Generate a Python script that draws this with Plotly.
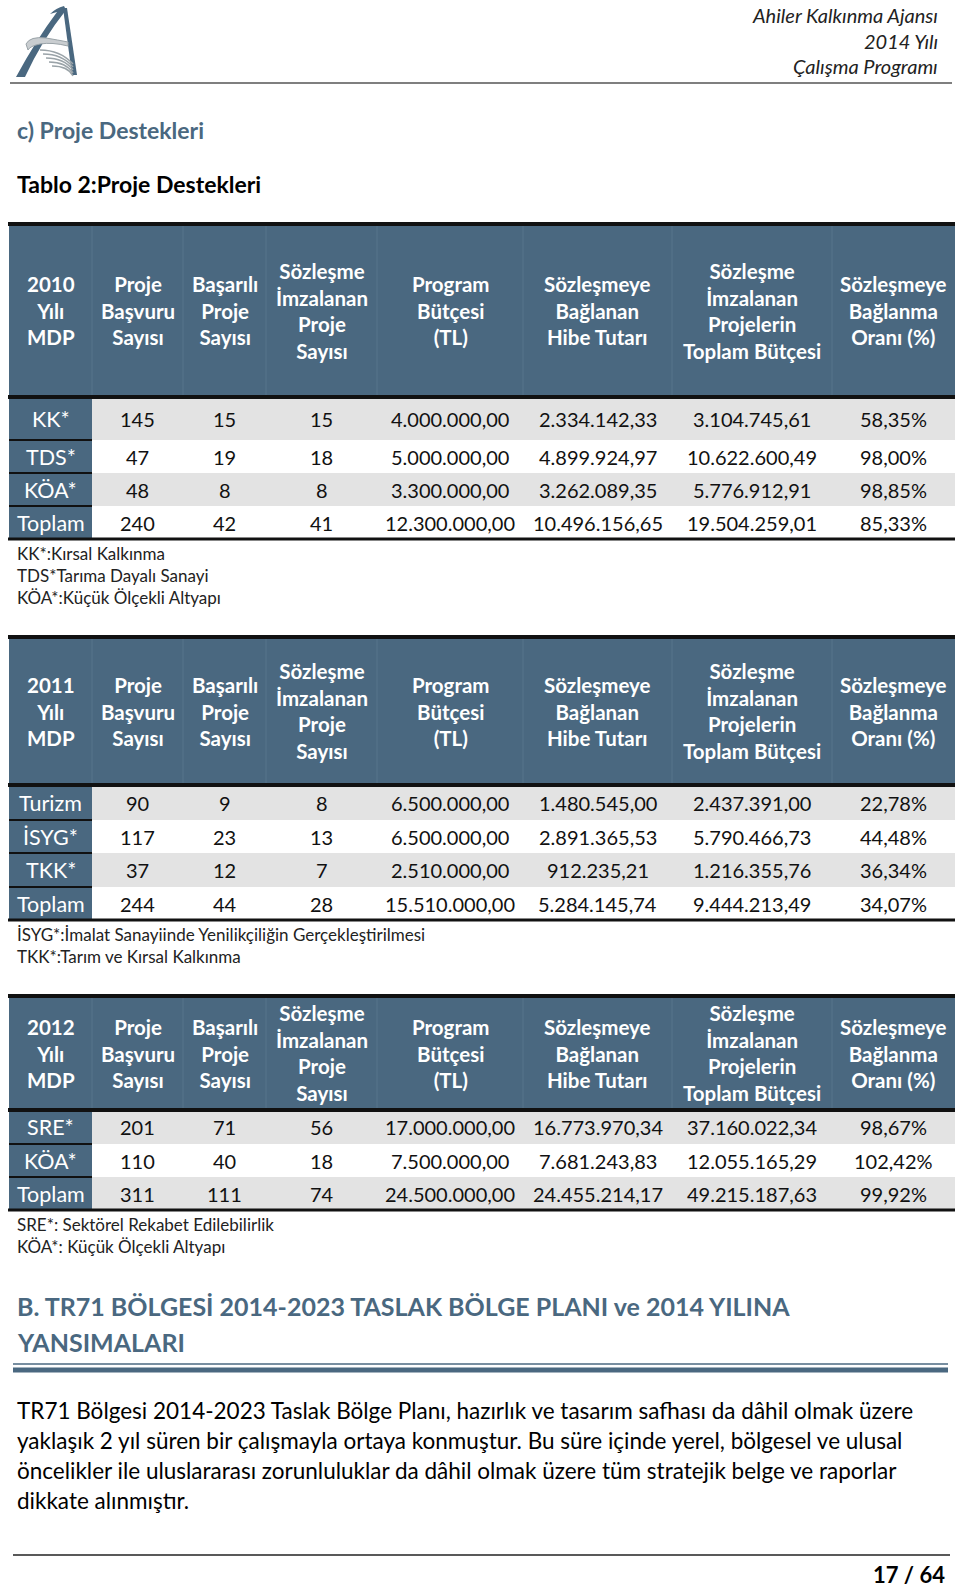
import plotly.graph_objects as go

W, H = 960, 1588
BLUE = "#4a6880"
GRAY = "#e3e3e3"
FONT = "Lato"

# column headers shared by the three tables
col_headers = [
    "Proje<br>Başvuru<br>Sayısı",
    "Başarılı<br>Proje<br>Sayısı",
    "Sözleşme<br>İmzalanan<br>Proje<br>Sayısı",
    "Program<br>Bütçesi<br>(TL)",
    "Sözleşmeye<br>Bağlanan<br>Hibe Tutarı",
    "Sözleşme<br>İmzalanan<br>Projelerin<br>Toplam Bütçesi",
    "Sözleşmeye<br>Bağlanma<br>Oranı (%)",
]

# 2010
programs_2010 = ["KK*", "TDS*", "KÖA*", "Toplam"]
basvuru_2010 = [145, 47, 48, 240]
basarili_2010 = [15, 19, 8, 42]
imzalanan_2010 = [15, 18, 8, 41]
butce_2010 = [4000000.00, 5000000.00, 3300000.00, 12300000.00]
hibe_2010 = [2334142.33, 4899924.97, 3262089.35, 10496156.65]
toplam_butce_2010 = [3104745.61, 10622600.49, 5776912.91, 19504259.01]
oran_2010 = [58.35, 98.00, 98.85, 85.33]
notes_2010 = ["KK*:Kırsal Kalkınma", "TDS*Tarıma Dayalı Sanayi", "KÖA*:Küçük Ölçekli Altyapı"]

# 2011
programs_2011 = ["Turizm", "İSYG*", "TKK*", "Toplam"]
basvuru_2011 = [90, 117, 37, 244]
basarili_2011 = [9, 23, 12, 44]
imzalanan_2011 = [8, 13, 7, 28]
butce_2011 = [6500000.00, 6500000.00, 2510000.00, 15510000.00]
hibe_2011 = [1480545.00, 2891365.53, 912235.21, 5284145.74]
toplam_butce_2011 = [2437391.00, 5790466.73, 1216355.76, 9444213.49]
oran_2011 = [22.78, 44.48, 36.34, 34.07]
notes_2011 = ["İSYG*:İmalat Sanayiinde Yenilikçiliğin Gerçekleştirilmesi", "TKK*:Tarım ve Kırsal Kalkınma"]

# 2012
programs_2012 = ["SRE*", "KÖA*", "Toplam"]
basvuru_2012 = [201, 110, 311]
basarili_2012 = [71, 40, 111]
imzalanan_2012 = [56, 18, 74]
butce_2012 = [17000000.00, 7500000.00, 24500000.00]
hibe_2012 = [16773970.34, 7681243.83, 24455214.17]
toplam_butce_2012 = [37160022.34, 12055165.29, 49215187.63]
oran_2012 = [98.67, 102.42, 99.92]
notes_2012 = ["SRE*: Sektörel Rekabet Edilebilirlik", "KÖA*: Küçük Ölçekli Altyapı"]

paragraph = [
    "TR71 Bölgesi 2014-2023 Taslak Bölge Planı, hazırlık ve tasarım safhası da dâhil olmak üzere",
    "yaklaşık 2 yıl süren bir çalışmayla ortaya konmuştur. Bu süre içinde yerel, bölgesel ve ulusal",
    "öncelikler ile uluslararası zorunluluklar da dâhil olmak üzere tüm stratejik belge ve raporlar",
    "dikkate alınmıştır.",
]


def tl(v):
    s = f"{v:,.2f}"
    return s.replace(",", "#").replace(".", ",").replace("#", ".")


def pct(v):
    return f"{v:.2f}".replace(".", ",") + "%"


# page layout (pixels)
COL_X = [9, 92, 183, 266, 377, 523, 672, 832, 955]

fig = go.Figure()
shapes = []
annots = []


def text(x, y, s, size, color="black", bold=False, italic=False, anchor="left"):
    if bold:
        s = f"<b>{s}</b>"
    if italic:
        s = f"<i>{s}</i>"
    annots.append(dict(x=x, y=y, xref="x", yref="y", text=s, showarrow=False,
                       xanchor=anchor, yanchor="middle",
                       font=dict(family=FONT, size=size, color=color)))


def hline(x0, x1, y, w, color="black"):
    shapes.append(dict(type="line", xref="x", yref="y", x0=x0, x1=x1, y0=y, y1=y,
                       line=dict(color=color, width=w)))


def rect(x0, x1, y0, y1, color):
    shapes.append(dict(type="rect", xref="x", yref="y", x0=x0, x1=x1, y0=y0, y1=y1,
                       fillcolor=color, line=dict(width=0), layer="below"))


def draw_table(year, top, head_bot, row_edges, programs, cols, notes, note_y):
    rect(COL_X[0], COL_X[-1], top, head_bot, BLUE)
    for xe in COL_X[1:-1]:
        shapes.append(dict(type="line", xref="x", yref="y", x0=xe, x1=xe, y0=top, y1=head_bot,
                           line=dict(color="#57758b", width=1), layer="below"))
    heads = [f"{year}<br>Yılı<br>MDP"] + col_headers
    ymid = (top + head_bot) / 2
    for i, h in enumerate(heads):
        text((COL_X[i] + COL_X[i + 1]) / 2, ymid, h, 20.5, "white", bold=True, anchor="center")
    for r, prog in enumerate(programs):
        y0, y1 = row_edges[r], row_edges[r + 1]
        rect(COL_X[1], COL_X[-1], y0, y1, GRAY if r % 2 == 0 else "white")
        rect(COL_X[0], COL_X[1], y0, y1, BLUE)
        yc = (y0 + y1) / 2
        text((COL_X[0] + COL_X[1]) / 2, yc, prog, 21.5, "white", anchor="center")
        vals = [str(cols[0][r]), str(cols[1][r]), str(cols[2][r]), tl(cols[3][r]),
                tl(cols[4][r]), tl(cols[5][r]), pct(cols[6][r])]
        for c, v in enumerate(vals):
            text((COL_X[c + 1] + COL_X[c + 2]) / 2, yc, v, 20, "#111111", anchor="center")
        if 0 < r:
            hline(COL_X[0], COL_X[1], y0, 2, "#111111")
    hline(COL_X[0] - 1, COL_X[-1], top, 4, "#111111")
    hline(COL_X[0] - 1, COL_X[-1], head_bot, 4, "#111111")
    hline(COL_X[0] - 1, COL_X[-1], row_edges[-1], 3, "#111111")
    for k, n in enumerate(notes):
        text(15, note_y + 22 * k, n, 17, "#222222")


draw_table(2010, 224, 397, [397, 440, 473, 506, 539], programs_2010,
           [basvuru_2010, basarili_2010, imzalanan_2010, butce_2010, hibe_2010, toplam_butce_2010, oran_2010],
           notes_2010, 553)
draw_table(2011, 637, 785, [785, 820, 853, 887, 920], programs_2011,
           [basvuru_2011, basarili_2011, imzalanan_2011, butce_2011, hibe_2011, toplam_butce_2011, oran_2011],
           notes_2011, 934)
draw_table(2012, 996, 1110, [1110, 1144, 1177, 1210], programs_2012,
           [basvuru_2012, basarili_2012, imzalanan_2012, butce_2012, hibe_2012, toplam_butce_2012, oran_2012],
           notes_2012, 1224)

# page header
for k, s in enumerate(["Ahiler Kalkınma Ajansı", "2014 Yılı", "Çalışma Programı"]):
    text(940, 15 + 25.5 * k, s, 20, "#222222", italic=True, anchor="right")
hline(10, 952, 83, 1.5, "#555555")

# logo
shapes += [
    dict(type="path", xref="x", yref="y", fillcolor=BLUE, line=dict(width=0),
         path="M 16 77 L 25 77 Q 42 40 66 10 L 64 6 Q 56 8 50 14 L 57 12 Q 36 40 16 77 Z"),
    dict(type="path", xref="x", yref="y", fillcolor=BLUE, line=dict(width=0),
         path="M 63 8 L 67 8 L 77 75 L 72 75 Z"),
    dict(type="path", xref="x", yref="y", fillcolor="#c9cdd0", line=dict(color="#9aa3a8", width=1),
         path="M 26 44 Q 30 36 46 38 Q 58 40 68 42 L 68 46 Q 52 42 40 44 Q 30 46 28 50 Z"),
]
for k in range(5):
    shapes.append(dict(type="path", xref="x", yref="y", line=dict(color="#9aa3a8", width=1.5),
                       path=f"M {40 + 3 * k} {50 + 4 * k} Q {60 + 2 * k} {50 + 4 * k} {73} {64 + 3 * k}"))

# section titles
text(15, 130, "c) Proje Destekleri", 23, BLUE, bold=True)
text(15, 184, "Tablo 2:Proje Destekleri", 23, "black", bold=True)

text(15, 1306, "B. TR71 BÖLGESİ 2014-2023 TASLAK BÖLGE PLANI ve 2014 YILINA", 25, BLUE, bold=True)
text(15, 1342, "YANSIMALARI", 25, BLUE, bold=True)
hline(13, 948, 1364, 1.5, BLUE)
hline(13, 948, 1370, 5, BLUE)

for k, s in enumerate(paragraph):
    text(15, 1410 + 30.3 * k, s, 22.5, "black")

# footer
hline(13, 950, 1555, 1.5, "#222222")
text(947, 1574, "17 / 64", 22, "black", bold=True, anchor="right")

fig.update_layout(
    width=W, height=H, margin=dict(l=0, r=0, t=0, b=0),
    paper_bgcolor="white", plot_bgcolor="white",
    xaxis=dict(range=[0, W], visible=False, fixedrange=True),
    yaxis=dict(range=[H, 0], visible=False, fixedrange=True),
    shapes=shapes, annotations=annots, showlegend=False,
)

fig.write_html("out.html", config={"displayModeBar": False},
               post_script="document.body.style.margin='0';document.body.style.overflow='hidden';")
